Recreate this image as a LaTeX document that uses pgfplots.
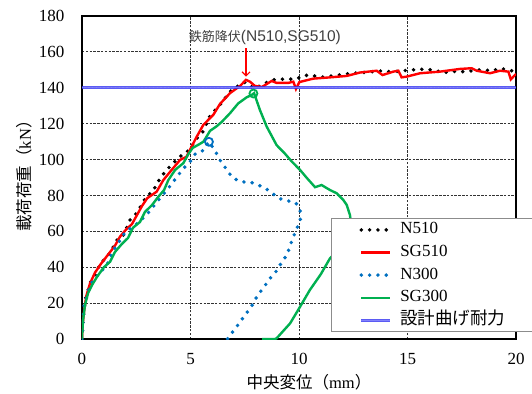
\documentclass[border=0pt]{standalone}
\usepackage{fontspec}
\setmainfont{Liberation Serif}
\newfontfamily\cjk{Noto Sans CJK JP}
\newfontfamily\lsans{Liberation Sans}
\usepackage{pgfplots}
\pgfplotsset{compat=1.18}
\usetikzlibrary{arrows.meta}
\definecolor{nblue}{RGB}{0,112,192}
\definecolor{sggreen}{RGB}{0,176,80}
\definecolor{dlight}{RGB}{140,140,255}
\definecolor{ddark}{RGB}{50,50,240}
\begin{document}
\begin{tikzpicture}
\begin{axis}[
  name=ax, scale only axis, width=434bp, height=323bp,
  xmin=0, xmax=20, ymin=0, ymax=180,
  xtick={0,5,...,20}, ytick={0,20,...,180},
  tick style={draw=none},
  axis line style={line width=1.2bp},
  grid=major,
  major grid style={black!80, line width=0.8bp, dash pattern=on 2.5bp off 1.3bp},
  /pgf/number format/assume math mode=true,
  tick label style={font=\fontsize{17bp}{20bp}\selectfont},
  yticklabel style={xshift=-14bp},
  xticklabel style={yshift=-11bp},
  xlabel={{\cjk 中央変位（}mm{\cjk ）}},
  ylabel={{\cjk 載荷荷重（}kN{\cjk ）}},
  label style={font=\fontsize{16.5bp}{20bp}\selectfont},
  xlabel style={at={(axis description cs:0.523,-0.133)}, anchor=center},
  ylabel style={at={(axis description cs:-0.132,0.517)}, anchor=center},
  legend image code/.code={\draw[#1] (0bp,0bp) -- (29bp,0bp); \path (-28bp,0bp) (37bp,0bp);},
  legend cell align=left,
  legend style={at={(0.5737,0.3746)}, anchor=north west, draw=black!45, line width=0.8bp, fill=white,
    inner xsep=0pt, inner ysep=3.5bp, row sep=6.6bp,
    nodes={inner sep=0pt, text height=12bp, text depth=4bp, text width=134bp, font=\fontsize{17bp}{20bp}\selectfont}},
]
\addplot[black, line width=3.9bp, line cap=round, dash pattern=on 0pt off 8.3bp] coordinates {
(0,0) (0.03,8) (0.08,15) (0.17,22.7) (0.29,27.3) (0.41,32) (0.61,36) (0.75,39.7) (0.97,43.5) (1.2,46.6) (1.4,50.2) (1.57,54.8) (1.87,57) (2.03,61.1) (2.18,66) (2.4,68.2) (2.63,72.3) (2.8,76) (3.01,80.1) (3.27,82) (3.44,86.6) (3.67,90.5) (3.87,94) (4.12,96.8) (4.48,101.5) (4.72,103) (4.98,105.9) (5.22,110.9) (5.56,115.2) (5.9,124.3) (6.37,130.6) (6.82,137.9) (7.1,140.3) (7.51,143.1) (7.74,141) (7.97,139.7) (8.43,142.5) (8.74,144.3) (9.1,144.8) (9.5,144.8) (9.87,144.8) (10.23,146.9) (10.61,146.9) (10.98,145.8) (11.37,146.4) (11.74,146.9) (12.12,147.7) (12.5,148.1) (12.89,148.5) (13.27,148.7) (13.63,149.5) (13.99,149) (14.38,149) (14.78,149.5) (15.15,149.9) (15.52,150.3) (15.9,150.3) (16.27,149.7) (16.65,148.3) (17.02,149.2) (17.4,149) (17.77,149) (18.16,149.9) (18.54,149.9) (18.93,149.5) (19.29,150.9) (19.6,149.9) (19.8,149.5)
};
\addlegendentry{N510}
\addplot[red, line width=2.4bp] coordinates {
(0,0) (0.03,8) (0.1,16) (0.2,24) (0.37,31) (0.6,37) (0.88,42) (1.2,47) (1.52,52) (1.75,57) (2.03,61) (2.3,64) (2.53,69) (2.76,74) (3.0,78.4) (3.44,82.1) (3.75,88.6) (4.13,94.2) (4.52,99.8) (4.82,101.6) (5.05,107.2) (5.29,112.8) (5.59,119.3) (6.05,124.9) (6.36,131) (6.82,137) (7.28,141) (7.56,144.4) (7.74,143.4) (7.97,141) (8.3,140.5) (8.74,143.8) (8.97,142.7) (9.5,142.7) (9.74,143.4) (9.86,139.3) (10.02,143.2) (10.66,145.1) (11.43,145.8) (12.2,146.6) (12.81,148.5) (13.58,149.5) (13.85,147.1) (14.35,149) (14.58,149.5) (14.73,145.8) (14.96,146.2) (15.58,148.1) (16.5,149) (17.42,150.5) (17.96,150.9) (18.19,149.5) (18.8,148.1) (19.26,149.5) (19.65,149) (19.76,144.7) (20,147.7)
};
\addlegendentry{SG510}
\addplot[nblue, line width=3.9bp, line cap=round, dash pattern=on 0pt off 8.3bp] coordinates {
(0,0) (0.03,8) (0.1,18.6) (0.22,23.6) (0.34,28.6) (0.52,32.9) (0.75,35.7) (1.17,41.8) (1.44,49.2) (1.64,52.8) (1.98,59.5) (2.44,63.5) (2.6,64.8) (3.03,70) (3.26,73.4) (3.49,76.9) (3.72,80.3) (3.98,84) (4.21,87.7) (4.44,91.4) (4.67,95.1) (4.93,97.9) (5.21,103) (5.52,104.4) (5.85,109.9) (6.16,104.4) (6.34,100) (6.56,96.3) (6.76,92.5) (7.04,89.2) (7.39,87.5) (7.74,87.5) (8.1,86) (8.47,83.8) (8.79,81) (9.11,78.2) (9.48,77) (9.86,75.8) (10.05,71.9) (10.08,67.4) (9.95,63) (9.8,58.7) (9.62,53.1) (9.45,46.8) (9.23,43.5) (9.03,39) (8.8,35.5) (8.6,33) (8.45,30) (8.26,27) (8.03,23) (7.85,19) (7.62,15) (7.39,11.3) (7.17,7.6) (6.94,3.9) (6.7,0)
};
\addlegendentry{N300}
\addplot[sggreen, line width=2.4bp] coordinates {
(0,0) (0.02,5) (0.05,10.6) (0.14,19) (0.28,25.6) (0.46,30) (0.69,34.6) (1.01,40) (1.29,43) (1.52,48.5) (1.84,53) (2.12,56.3) (2.35,62) (2.67,65.2) (2.9,70.8) (3.23,74.7) (3.5,79) (3.78,83) (3.98,88.6) (4.29,94.2) (4.67,98) (4.9,103) (5.1,106.5) (5.4,108.5) (5.6,110) (5.9,116) (6.2,118.5) (6.44,121) (6.82,125.8) (7.2,131.3) (7.59,134.7) (7.82,136) (7.93,137) (8.2,127.6) (8.51,118.4) (8.97,108) (9.3,104) (9.66,99) (10.05,94.2) (10.35,89.9) (10.74,84.6) (11.04,85.8) (11.43,83) (11.74,81.2) (12.04,77.5) (12.2,74.7) (12.35,69) (12.4,64) (12.3,58) (12.0,52) (11.7,48) (11.43,45) (11.0,36) (10.5,27.3) (10.05,18) (9.59,8.7) (8.97,0.4) (8.9,0) (8.3,0)
};
\addlegendentry{SG300}
\addplot[draw=ddark, double=dlight, double distance=1.4bp, line width=0.7bp, opacity=0.8] coordinates {(0,140) (20,140)};
\addlegendentry{{\cjk\fontsize{17.5bp}{20bp}\selectfont 設計曲げ耐力}}
\addplot[forget plot, only marks, mark=o, nblue, mark size=4bp, mark options={line width=1.8bp}] coordinates {(5.85,109.9)};
\addplot[forget plot, only marks, mark=o, sggreen, mark size=4bp, mark options={line width=1.8bp}] coordinates {(7.9,136.8)};
\draw[red, line width=1.2bp, -{Straight Barb[length=4bp,width=8bp]}] (axis cs:7.56,162) -- (axis cs:7.56,146.2);
\node[text=black!75, inner sep=0pt] at (axis cs:8.43,167.8) {{\cjk\fontsize{13bp}{16bp}\selectfont 鉄筋降伏}{\lsans\fontsize{15.5bp}{16bp}\selectfont (N510,SG510)}};
\end{axis}
\pgfresetboundingbox
\path[use as bounding box] ([xshift=-82bp,yshift=-55bp]ax.south west) rectangle ([xshift=16bp,yshift=16bp]ax.north east);
\end{tikzpicture}
\end{document}
